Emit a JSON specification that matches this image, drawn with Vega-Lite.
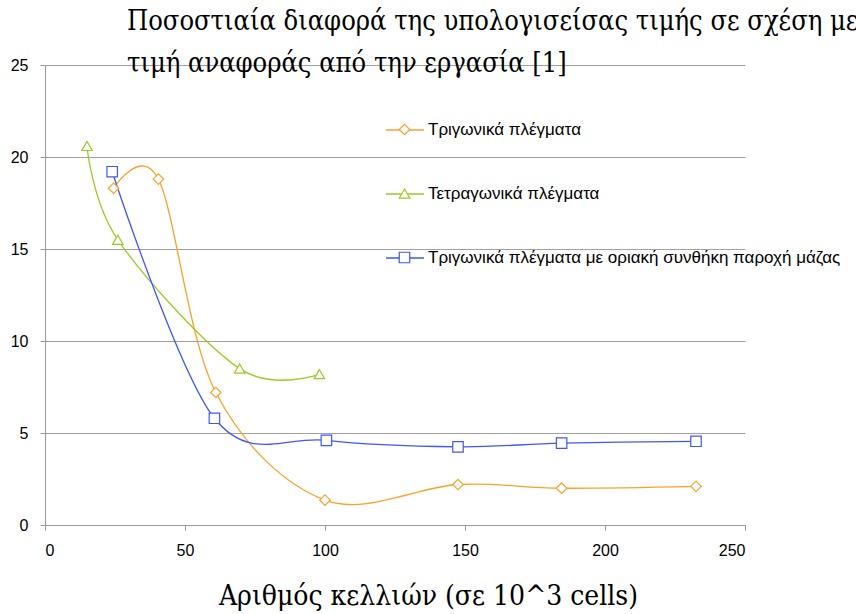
{
  "$schema": "https://vega.github.io/schema/vega-lite/v6.json",
  "width": 700,
  "height": 460,
  "autosize": {"type": "none"},
  "padding": {"left": 45, "top": 65, "right": 111, "bottom": 89},
  "background": "white",
  "title": {
    "text": ["Ποσοστιαία διαφορά της υπολογισείσας τιμής σε σχέση με την", "τιμή αναφοράς από την εργασία [1]"],
    "anchor": "start",
    "frame": "group",
    "dx": 82,
    "dy": 42,
    "offset": 0,
    "baseline": "alphabetic",
    "font": "DejaVu Serif Condensed, DejaVu Serif, serif",
    "fontSize": 27,
    "fontWeight": "normal",
    "color": "black",
    "lineHeight": 42
  },
  "config": {
    "view": {"stroke": null},
    "axis": {
      "labelFont": "Liberation Sans",
      "labelFontSize": 16,
      "labelColor": "black",
      "domainColor": "#9a9a9a",
      "tickColor": "#9a9a9a",
      "gridColor": "#a0a0a0",
      "tickSize": 5
    }
  },
  "data": {
    "values": [
      {"series": "Τριγωνικά πλέγματα", "cells": 24.5, "diff": 18.3},
      {"series": "Τριγωνικά πλέγματα", "cells": 40.5, "diff": 18.8},
      {"series": "Τριγωνικά πλέγματα", "cells": 61, "diff": 7.2},
      {"series": "Τριγωνικά πλέγματα", "cells": 100, "diff": 1.35},
      {"series": "Τριγωνικά πλέγματα", "cells": 147.5, "diff": 2.2},
      {"series": "Τριγωνικά πλέγματα", "cells": 184.5, "diff": 2.0},
      {"series": "Τριγωνικά πλέγματα", "cells": 232.5, "diff": 2.1},
      {"series": "Τετραγωνικά πλέγματα", "cells": 15, "diff": 20.6},
      {"series": "Τετραγωνικά πλέγματα", "cells": 26, "diff": 15.5},
      {"series": "Τετραγωνικά πλέγματα", "cells": 69.5, "diff": 8.5},
      {"series": "Τετραγωνικά πλέγματα", "cells": 98, "diff": 8.2},
      {"series": "Τριγωνικά πλέγματα με οριακή συνθήκη παροχή μάζας", "cells": 24, "diff": 19.2},
      {"series": "Τριγωνικά πλέγματα με οριακή συνθήκη παροχή μάζας", "cells": 60.5, "diff": 5.8},
      {"series": "Τριγωνικά πλέγματα με οριακή συνθήκη παροχή μάζας", "cells": 100.5, "diff": 4.6},
      {"series": "Τριγωνικά πλέγματα με οριακή συνθήκη παροχή μάζας", "cells": 147.5, "diff": 4.25},
      {"series": "Τριγωνικά πλέγματα με οριακή συνθήκη παροχή μάζας", "cells": 184.5, "diff": 4.45},
      {"series": "Τριγωνικά πλέγματα με οριακή συνθήκη παροχή μάζας", "cells": 232.5, "diff": 4.55}
    ]
  },
  "encoding": {
    "x": {
      "field": "cells",
      "type": "quantitative",
      "scale": {"domain": [0, 250], "nice": false},
      "axis": {
        "values": [0, 50, 100, 150, 200, 250],
        "grid": false,
        "labelPadding": 12,
        "title": "Αριθμός κελλιών (σε 10^3 cells)",
        "titleFont": "DejaVu Serif Condensed, DejaVu Serif, serif",
        "titleFontSize": 28,
        "titleFontWeight": "normal",
        "titleColor": "black",
        "titleX": 383,
        "titleY": 79,
        "titleAlign": "center",
        "titleBaseline": "alphabetic"
      }
    },
    "y": {
      "field": "diff",
      "type": "quantitative",
      "scale": {"domain": [0, 25], "nice": false},
      "axis": {
        "values": [0, 5, 10, 15, 20, 25],
        "grid": true,
        "title": null,
        "labelPadding": 12
      }
    }
  },
  "layer": [
    {
      "mark": {"type": "line", "interpolate": "cardinal", "strokeWidth": 1.3},
      "encoding": {
        "stroke": {
          "field": "series",
          "type": "nominal",
          "sort": null,
          "scale": {"range": ["#FFA028", "#99CC22", "#3F55FF"]},
          "legend": {
            "orient": "none",
            "legendX": 340,
            "legendY": 45,
            "title": null,
            "padding": 0,
            "symbolType": "stroke",
            "symbolSize": 1444,
            "symbolStrokeWidth": 1.3,
            "labelFont": "Liberation Sans",
            "labelFontSize": 17,
            "labelOpacity": 0,
            "labelOffset": 10,
            "labelLimit": 0,
            "rowPadding": 36
          }
        }
      }
    },
    {
      "mark": {"type": "point", "filled": false, "fill": "white", "fillOpacity": 1, "opacity": 1, "size": 110, "strokeWidth": 1.2},
      "encoding": {
        "color": {
          "field": "series",
          "type": "nominal",
          "scale": {
            "domain": ["Τριγωνικά πλέγματα", "Τετραγωνικά πλέγματα", "Τριγωνικά πλέγματα με οριακή συνθήκη παροχή μάζας"],
            "range": ["#FFA028", "#99CC22", "#3F55FF"]
          },
          "legend": {
            "orient": "none",
            "legendX": 351,
            "legendY": 56,
            "title": null,
            "padding": 0,
            "symbolSize": 110,
            "symbolStrokeWidth": 1.2,
            "labelFont": "Liberation Sans",
            "labelFontSize": 17,
            "labelColor": "black",
            "labelOffset": 15,
            "labelLimit": 0,
            "rowPadding": 46,
            "encode": {"symbols": {"update": {"fill": {"value": "white"}}}}
          }
        },
        "shape": {
          "field": "series",
          "type": "nominal",
          "scale": {
            "domain": ["Τριγωνικά πλέγματα", "Τετραγωνικά πλέγματα", "Τριγωνικά πλέγματα με οριακή συνθήκη παροχή μάζας"],
            "range": ["diamond", "triangle-up", "square"]
          },
          "legend": {
            "orient": "none",
            "legendX": 351,
            "legendY": 56,
            "title": null,
            "padding": 0,
            "symbolSize": 110,
            "symbolStrokeWidth": 1.2,
            "labelFont": "Liberation Sans",
            "labelFontSize": 17,
            "labelColor": "black",
            "labelOffset": 15,
            "labelLimit": 0,
            "rowPadding": 46,
            "encode": {"symbols": {"update": {"fill": {"value": "white"}}}}
          }
        }
      }
    }
  ]
}
